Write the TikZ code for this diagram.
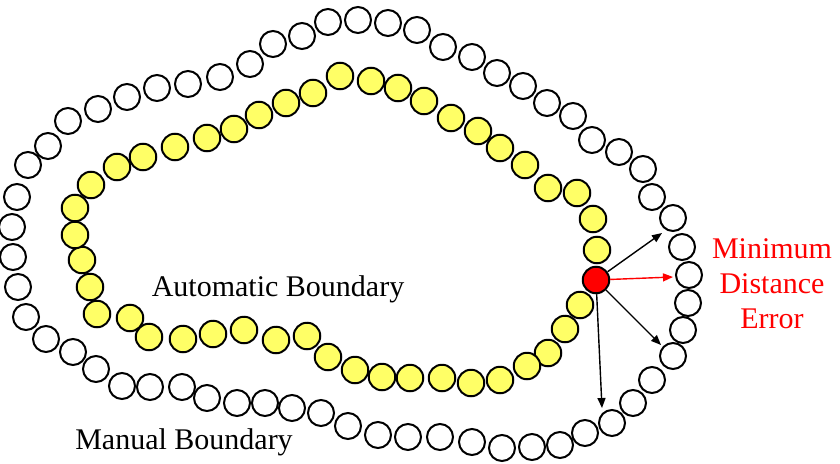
\documentclass[tikz,border=0pt]{standalone}
\usepackage{fontspec}
\setmainfont{Liberation Serif}
\usetikzlibrary{arrows.meta}
\definecolor{autoyellow}{RGB}{255,255,102}
\tikzset{
	manpt/.style = {circle, draw, line width=2pt, fill=white, minimum size=26pt, inner sep=0pt},
	autopt/.style = {manpt, fill=autoyellow, minimum size=26.5pt},
	errpt/.style = {autopt, fill=red},
	ptr/.style = {line width=1.4pt, -{Triangle[length=10pt,width=8pt]}},
	lbl/.style = {font=\fontsize{30}{35}\selectfont, inner sep=0pt}
}
\begin{document}
\begin{tikzpicture}[x=1pt, y=-1pt]
			
			\useasboundingbox (0,0) rectangle (840,463);
			
			% manual boundary
			\foreach \x/\y [count=\i] in {358/20, 388/23, 417/30, 443/47, 472/57, 497/73, 523/86, 547/103, 573/116, 592/140, 619/152, 643/169, 652/197, 673/218, 682/247, 689/275, 688/303, 683/330, 673/356, 652/380, 633/403, 612/423, 585/433, 560/445, 532/447, 502/448, 472/442, 440/437, 408/437, 378/435, 348/426, 321/413, 292/408, 265/403, 237/403, 207/398, 182/387, 150/387, 122/386, 96/369, 73/352, 46/339, 26/317, 18/287, 13/257, 12/227, 17/197, 28/165, 48/146, 68/121, 98/109, 127/97, 157/88, 188/84, 220/77, 250/64, 273/44, 302/36, 328/22}
				\node[manpt] (m\i) at (\x, \y) {};
			
			% automatic boundary
			\foreach \x/\y [count=\i] in {75/208, 91/185, 117/167, 143/157, 175/147, 207/138, 234/129, 259/115, 286/103, 313/93, 340/76, 371/81, 398/88, 424/101, 451/118, 478/131, 500/148, 525/165, 548/188, 577/193, 593/219, 597/250, 580/305, 565/329, 548/353, 527/366, 500/380, 471/383, 442/378, 410/378, 382/377, 355/370, 328/357, 307/336, 276/340, 244/330, 213/334, 183/339, 149/337, 130/318, 97/314, 90/287, 82/260, 75/235}
				\node[autopt] (a\i) at (\x, \y) {};
			
			\node[errpt] (err) at (596, 280) {};
			
			% arrow ends on the manual boundary
			\coordinate (t1) at (662, 233);
			\coordinate (t2) at (673, 277);
			\coordinate (t3) at (661, 345);
			\coordinate (t4) at (602, 408);
			
			\draw[ptr] (err) -- (t1);
			\draw[ptr, red] (err) -- (t2);
			\draw[ptr] (err) -- (t3);
			\draw[ptr] (err) -- (t4);
			
			\node[lbl] (autolbl) at (278, 289) {Automatic Boundary};
			\node[lbl] (manlbl) at (184, 442) {Manual Boundary};
			\node[lbl, red, align=center] (errlbl) at (772, 284) {Minimum\\Distance\\Error};
			
		\end{tikzpicture}
\end{document}
